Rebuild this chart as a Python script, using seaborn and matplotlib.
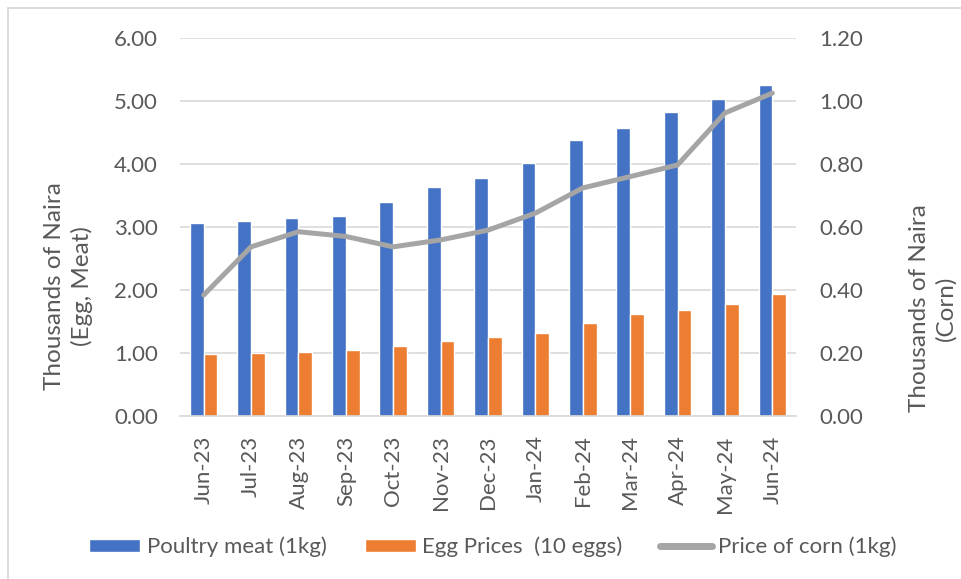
import numpy as np
import pandas as pd
import matplotlib.pyplot as plt
import seaborn as sns
from matplotlib.patches import Patch, Rectangle
from matplotlib.lines import Line2D
from matplotlib.ticker import FixedLocator, MultipleLocator

# data
months = ['Jun-23', 'Jul-23', 'Aug-23', 'Sep-23', 'Oct-23', 'Nov-23', 'Dec-23',
          'Jan-24', 'Feb-24', 'Mar-24', 'Apr-24', 'May-24', 'Jun-24']
poultry = [3.06, 3.09, 3.14, 3.18, 3.40, 3.64, 3.78, 4.01, 4.38, 4.57, 4.82, 5.03, 5.25]
eggs = [0.98, 1.00, 1.02, 1.05, 1.11, 1.19, 1.25, 1.32, 1.48, 1.62, 1.68, 1.78, 1.94]
corn = [0.384, 0.537, 0.585, 0.57, 0.537, 0.559, 0.59, 0.644, 0.724, 0.76, 0.797, 0.962, 1.025]

series_names = ['Poultry meat (1kg)', 'Egg Prices  (10 eggs)']
corn_name = 'Price of corn (1kg)'

blue = '#4472C4'
orange = '#ED7D31'
grey = '#A5A5A5'
text_col = '#595959'
grid_col = '#D9D9D9'

sns.set_theme(style='white')
plt.rcParams['font.family'] = ['Lato', 'DejaVu Sans']

# long table for the grouped bars
bars = pd.DataFrame({
    'month': months * 2,
    'series': [series_names[0]] * len(months) + [series_names[1]] * len(months),
    'value': poultry + eggs,
})

fig = plt.figure(figsize=(9.61, 5.79), dpi=100)
ax = fig.add_axes([180 / 961, 1 - 416 / 579, 616 / 961, 378 / 579])

sns.barplot(data=bars, x='month', y='value', hue='series', order=months,
            hue_order=series_names, palette=[blue, orange], width=0.58, gap=0,
            saturation=1, legend=False, ax=ax)

ax2 = ax.twinx()
sns.pointplot(x=months, y=corn, order=months, color=grey, markers='',
              linewidth=3.6, ax=ax2)
for ln in ax2.lines:
    ln.set_solid_capstyle('round')
    ln.set_solid_joinstyle('round')

# left axis
ax.set_ylim(0, 6)
ax.yaxis.set_major_locator(MultipleLocator(1))
ax.yaxis.set_major_formatter(lambda v, p: f'{v:.2f}')
ax.grid(axis='y', color=grid_col, linewidth=1.2)
ax.set_axisbelow(True)
ax.set_xlim(-0.5, len(months) - 0.5)

# right axis
ax2.set_ylim(0, 1.2)
ax2.yaxis.set_major_locator(MultipleLocator(0.2))
ax2.yaxis.set_major_formatter(lambda v, p: f'{v:.2f}')
ax2.set_xlim(-0.5, len(months) - 0.5)

for a in (ax, ax2):
    for side in ['top', 'left', 'right']:
        a.spines[side].set_visible(False)
    a.spines['bottom'].set_color(grid_col)
    a.spines['bottom'].set_linewidth(1.2)
    a.tick_params(axis='y', length=0, labelsize=16, labelcolor=text_col)
ax.tick_params(axis='y', pad=16)
ax2.tick_params(axis='y', pad=17)
ax2.spines['bottom'].set_visible(False)

ax.set_xlabel('')
ax2.set_xlabel('')
ax.set_xticks(range(len(months)))
ax.set_xticklabels(months, rotation=90)
ax.tick_params(axis='x', which='major', length=0, pad=14, labelsize=16,
               labelcolor=text_col)
ax.xaxis.set_minor_locator(FixedLocator(np.arange(-0.5, len(months), 1)))
ax.tick_params(axis='x', which='minor', length=6, width=1.2, color=grid_col,
               direction='out')

ax.set_ylabel('Thousands of Naira\n(Egg, Meat)', fontsize=17.5, color=text_col,
              linespacing=1.3)
ax.yaxis.label.set_va('center')
ax.yaxis.set_label_coords(-0.181, 0.344)
ax2.set_ylabel('Thousands of Naira\n(Corn)', fontsize=17.5, color=text_col,
               rotation=90, linespacing=1.25)
ax2.yaxis.label.set_va('center')
ax2.yaxis.set_label_coords(1.222, 0.286)

handles = [Patch(facecolor=blue, label=series_names[0]),
           Patch(facecolor=orange, label=series_names[1]),
           Line2D([], [], color=grey, linewidth=5, solid_capstyle='round',
                  label=corn_name)]
fig.legend(handles=handles, loc='center', bbox_to_anchor=(0.513, 1 - 547 / 579),
           ncol=3, frameon=False, fontsize=16, labelcolor=text_col,
           handlelength=2.3, handleheight=0.55, handletextpad=0.3,
           columnspacing=1.7)

# chart area border
fig.patches.append(Rectangle((8 / 961, -0.1), 1.1, 1.1 - 8 / 579,
                             transform=fig.transFigure, fill=False,
                             edgecolor=grid_col, linewidth=1.3))

fig.savefig('out.png', dpi=100)
